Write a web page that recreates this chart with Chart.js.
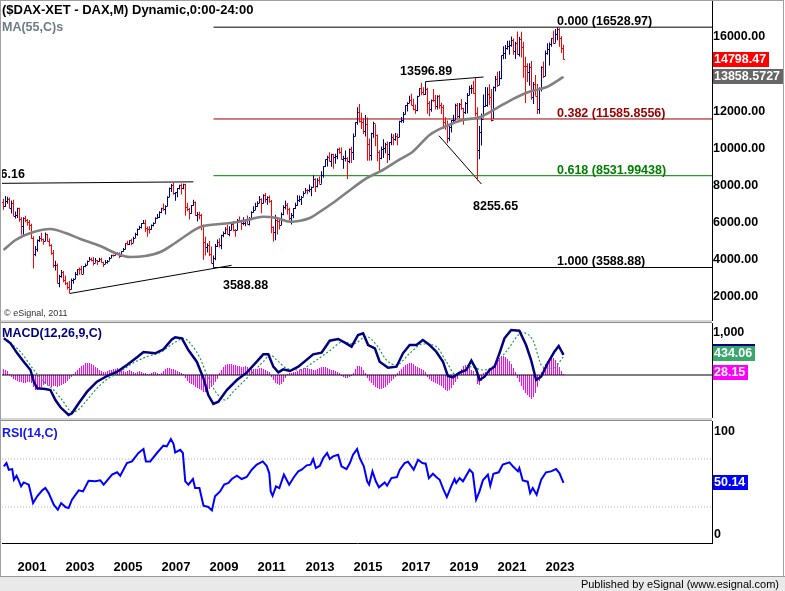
<!DOCTYPE html>
<html>
<head>
<meta charset="utf-8">
<title>DAX monthly</title>
<script src="https://cdn.jsdelivr.net/npm/chart.js@4.4.1/dist/chart.umd.min.js"></script>
<style>
  html, body { margin: 0; padding: 0; background: #fff; }
  body { position: relative; width: 785px; height: 591px; overflow: hidden; font-family: "Liberation Sans", Arial, sans-serif; }
  canvas { position: absolute; left: 0; }
  .frame { position: absolute; left: 0; top: 0; width: 784px; height: 577px; border: 1px solid #a0a0a0; border-bottom: none; box-sizing: border-box; pointer-events: none; }
  .split { position: absolute; left: 0; width: 712px; height: 3px; background: #d6d6d6; border-bottom: 1px solid #8c8c8c; box-sizing: border-box; }
  .footer { position: absolute; left: 0; top: 576px; width: 785px; height: 15px; background: #e9e9e9; border-top: 1px solid #9a9a9a; box-sizing: border-box; }
  .footer span { position: absolute; right: 6px; top: 1px; font: 11px "Liberation Sans Narrow", "Liberation Sans", sans-serif; font-stretch: condensed; color: #000; }
  .lbl { position: absolute; left: 2px; font-weight: bold; font-size: 12.5px; line-height: 14px; white-space: nowrap; }
  .mark { position: absolute; left: 4px; top: 308px; font: 9px "Liberation Sans Narrow", "Liberation Sans", sans-serif; font-stretch: condensed; color: #333; }
</style>
</head>
<body>
<canvas id="priceChart" width="785" height="321" style="top:0px"></canvas>
<canvas id="macdChart" width="785" height="95" style="top:323px"></canvas>
<canvas id="rsiChart" width="785" height="156" style="top:421px"></canvas>

<div class="split" style="top:320px"></div>
<div class="split" style="top:418px"></div>
<div class="frame"></div>

<div class="lbl" style="top:3px;color:#000;font-size:13px">($DAX-XET - DAX,M) Dynamic,0:00-24:00</div>
<div class="lbl" style="top:20px;color:#6e7c8a">MA(55,C)s</div>
<div class="mark">© eSignal, 2011</div>
<div class="lbl" style="top:326px;color:#000080">MACD(12,26,9,C)</div>
<div class="lbl" style="top:426px;color:#1414ff">RSI(14,C)</div>
<div class="footer"><span>Published by eSignal (www.esignal.com)</span></div>

<script>
// monthly bars, Jun 2000 .. Oct 2023 (open = previous close)
const firstMonth = 2000 + 5 / 12;
const firstOpen = 7109;

const closes = [
  6898, 7191, 7259, 6798, 7078, 6372, 6434,
  6795, 6208, 5830, 6265, 6123, 6058, 5862, 5188, 4308, 4560, 5060, 5160,
  5108, 5039, 5398, 5042, 4818, 4383, 3700, 3713, 2769, 3153, 3320, 2893,
  2748, 2547, 2424, 2942, 2983, 3221, 3487, 3485, 3257, 3655, 3746, 3965,
  4059, 4018, 3856, 3985, 3921, 4052, 3896, 3785, 3893, 3960, 4126, 4256,
  4254, 4350, 4349, 4185, 4461, 4587, 4887, 4830, 5044, 4929, 5193, 5408,
  5674, 5796, 5970, 6009, 5693, 5683, 5682, 5859, 6004, 6268, 6309, 6597,
  6789, 6716, 6917, 7409, 7883, 8007, 7584, 7638, 7862, 8020, 7871, 8067,
  6851, 6748, 6535, 6949, 7097, 6418, 6480, 6422, 5831, 4988, 4669, 4810,
  4338, 3844, 4085, 4770, 4941, 4809, 5332, 5458, 5675, 5415, 5625, 5957,
  5608, 5598, 6154, 6136, 5964, 5966, 6148, 5925, 6229, 6601, 6688, 6914,
  7077, 7273, 7041, 7514, 7294, 7376, 7159, 5785, 5502, 6141, 6089, 5898,
  6458, 6856, 6947, 6761, 6264, 6416, 6772, 6971, 7216, 7260, 7405, 7612,
  7776, 7742, 7795, 7914, 8349, 7959, 8276, 8104, 8594, 9033, 9406, 9552,
  9306, 9692, 9556, 9603, 9943, 9833, 9407, 9470, 9474, 9327, 9981, 9806,
  10694, 11402, 11966, 11454, 11414, 10945, 11309, 10259, 9660, 10850, 11382, 10743,
  9798, 9495, 9966, 10039, 10263, 9680, 10337, 10593, 10511, 10665, 10640, 11481,
  11535, 11834, 12313, 12438, 12615, 12325, 12118, 12056, 12829, 13230, 13024, 12918,
  13189, 12436, 12097, 12612, 12605, 12306, 12806, 12364, 12247, 11447, 11257, 10559,
  11173, 11516, 11526, 12344, 11727, 12399, 12189, 11939, 12428, 12867, 13236, 13249,
  12982, 11890, 9936, 10862, 11587, 12311, 12313, 12945, 12761, 11556, 13291, 13719,
  13433, 13786, 15008, 15136, 15421, 15531, 15544, 15835, 15261, 15689, 15100, 15885,
  15471, 14461, 14415, 14098, 14388, 12784, 13484, 12835, 12114, 13253, 14397, 13924,
  15128, 15365, 15629, 15922, 15664, 16148, 16447, 15947, 15387, 14798.47
];
const highs = [
  7290, 7435, 7400, 7360, 7200, 7230, 6600,
  6810, 6800, 6290, 6300, 6370, 6200, 6150, 5940, 5270, 4750, 5090, 5290,
  5460, 5140, 5470, 5410, 5160, 4840, 4530, 3950, 3800, 3200, 3450, 3400,
  3160, 2800, 2860, 2990, 3010, 3340, 3500, 3590, 3680, 3670, 3810, 3970,
  4160, 4110, 4150, 4100, 3990, 4110, 4110, 3900, 3990, 3990, 4150, 4270,
  4290, 4400, 4420, 4410, 4470, 4640, 4900, 5030, 5060, 5140, 5240, 5460,
  5690, 5840, 5990, 6140, 6160, 5800, 5810, 5900, 6020, 6290, 6470, 6620,
  6800, 7040, 6940, 7420, 7890, 8080, 8151, 7640, 7870, 8040, 8110, 8100,
  8100, 7080, 6800, 6960, 7240, 7140, 6580, 6590, 6470, 5900, 5250, 4900,
  5010, 4720, 4240, 4850, 5090, 5170, 5350, 5530, 5760, 5890, 5810, 6030,
  6090, 5660, 6200, 6340, 6160, 6300, 6180, 6390, 6310, 6620, 6880, 7080,
  7160, 7440, 7320, 7530, 7600, 7430, 7470, 7220, 5810, 6430, 6290, 6200,
  6550, 6940, 7190, 7060, 6800, 6520, 6790, 7080, 7480, 7460, 7440, 7700,
  7870, 7810, 8060, 7950, 8560, 8400, 8400, 8490, 8770, 9040, 9410, 9600,
  9800, 9720, 9720, 9720, 10000, 10050, 10050, 9600, 9890, 9530, 10000, 10090,
  10810, 11410, 12220, 12390, 11920, 11630, 11800, 11670, 10540, 10850, 11430, 11300,
  10750, 9900, 10100, 10490, 10300, 10370, 10340, 10800, 10770, 10830, 10810, 11490,
  11690, 11960, 12320, 12490, 12840, 12950, 12680, 12370, 12840, 13240, 13530, 13300,
  13597, 13270, 12550, 12640, 13200, 12880, 12860, 12890, 12460, 12350, 11680, 11500,
  11260, 11530, 11820, 12400, 12440, 12440, 12660, 12190, 12500, 12990, 13370, 13430,
  13640, 13795, 12220, 11210, 11880, 12910, 13310, 13300, 13460, 13200, 13330, 13900,
  14130, 14170, 15010, 15500, 15570, 15800, 15810, 16030, 15920, 15750, 16290, 16000,
  16285, 15740, 14930, 14590, 14580, 14710, 13580, 13950, 13470, 13300, 14420, 14680,
  15270, 15660, 15710, 15930, 16330, 16430, 16529, 16470, 16040, 15580
];
const lows = [
  6700, 6850, 7020, 6780, 6500, 6360, 6230,
  6260, 6050, 5350, 5330, 6020, 5850, 5600, 5130, 3540, 4200, 4430, 4960,
  4990, 4810, 5000, 4990, 4720, 4270, 3570, 3430, 2740, 2520, 3030, 2800,
  2650, 2400, 2189, 2400, 2720, 2950, 3160, 3200, 3230, 3250, 3600, 3720,
  3950, 3930, 3690, 3840, 3720, 3900, 3840, 3620, 3780, 3800, 3950, 4100,
  4170, 4240, 4280, 4100, 4170, 4440, 4560, 4790, 4800, 4780, 4920, 5180,
  5300, 5620, 5690, 5930, 5500, 5240, 5420, 5620, 5800, 5970, 6210, 6260,
  6510, 6640, 6440, 6880, 7380, 7660, 7500, 7180, 7370, 7790, 7520, 7800,
  6380, 6620, 6170, 6480, 6920, 6370, 6060, 6180, 5600, 4010, 4240, 4400,
  4210, 3820, 3589, 3980, 4690, 4660, 4570, 5220, 5380, 5370, 5270, 5600,
  5540, 5250, 5590, 6080, 5610, 5860, 5810, 5910, 5850, 6150, 6530, 6690,
  6860, 7060, 6510, 7030, 7080, 6970, 7070, 5430, 4970, 5050, 5370, 5640,
  5880, 6400, 6710, 6440, 6120, 5910, 6240, 6740, 6920, 7110, 6950, 7400,
  7600, 7530, 7640, 7420, 7900, 7650, 7900, 8100, 8100, 8420, 9020, 9030,
  9300, 9020, 8910, 9170, 9420, 9720, 9400, 8900, 9300, 8355, 9200, 9210,
  9380, 10650, 11280, 11400, 11050, 10780, 10640, 9340, 9330, 9350, 10570, 10120,
  9310, 8700, 9420, 9480, 9740, 9210, 9370, 10170, 10170, 10420, 10170, 10620,
  11380, 11370, 11830, 11990, 12440, 12320, 12050, 11870, 12000, 12820, 12860, 12860,
  12880, 11870, 11730, 11980, 12520, 12100, 12100, 12130, 11860, 11050, 11010, 10280,
  10390, 10860, 11300, 11520, 11620, 11620, 12080, 11270, 11850, 11880, 12860, 12950,
  12950, 11720, 8256, 9420, 10160, 11660, 12250, 12250, 12340, 11450, 11600, 13060,
  13310, 13420, 13720, 14800, 14820, 15320, 15050, 15480, 15050, 14820, 15050, 14950,
  14900, 13810, 12440, 13580, 13380, 12620, 12390, 12830, 11860, 11870, 13070, 13790,
  13900, 15040, 14460, 15480, 15630, 15690, 15830, 15470, 15140, 14790
];

// 55-month moving average
const maYears = [2000.42, 2000.92, 2001.54, 2002.37, 2003.00, 2003.62, 2004.45, 2005.07, 2005.70, 2006.32,
  2006.95, 2007.57, 2007.99, 2008.61, 2009.44, 2009.98, 2010.60, 2011.23, 2011.81, 2012.35,
  2013.18, 2013.60, 2014.14, 2014.97, 2015.55, 2016.09, 2016.93, 2017.47, 2018.17, 2018.87,
  2019.54, 2020.25, 2020.95, 2021.62, 2022.33, 2023.02, 2023.44, 2023.75];
const maValues = [4530, 5068, 5445, 5661, 5445, 5122, 4745, 4368, 4153, 4207,
  4422, 4907, 5284, 5768, 5930, 6000, 6146, 6323, 6253, 6054,
  6253, 6592, 7061, 7869, 8407, 8746, 9414, 9823, 10723, 11207,
  11530, 11676, 12160, 12645, 13055, 13291, 13593, 13858.5727];

// MACD(12,26,9)
const macdYears = [2000.43, 2000.71, 2000.99, 2001.26, 2001.54, 2001.68, 2001.82, 2002.16, 2002.37, 2002.58,
  2002.79, 2003.13, 2003.27, 2003.55, 2003.90, 2004.31, 2004.73, 2005.15, 2005.56, 2005.98,
  2006.25, 2006.74, 2007.08, 2007.43, 2007.57, 2007.85, 2008.12, 2008.47, 2008.75, 2008.95,
  2009.16, 2009.37, 2009.72, 2010.14, 2010.55, 2010.97, 2011.24, 2011.45, 2011.66, 2011.87,
  2012.07, 2012.35, 2012.70, 2013.32, 2013.67, 2014.01, 2014.36, 2014.64, 2014.92, 2015.19,
  2015.40, 2015.61, 2015.89, 2016.09, 2016.44, 2016.79, 2017.06, 2017.34, 2017.62, 2017.89,
  2018.17, 2018.45, 2018.73, 2018.93, 2019.14, 2019.42, 2019.70, 2019.91, 2020.11, 2020.25,
  2020.46, 2020.67, 2020.88, 2021.08, 2021.29, 2021.57, 2021.91, 2022.19, 2022.40, 2022.61,
  2022.82, 2023.09, 2023.37, 2023.55, 2023.75];
const macdValues = [873, 754, 516, 317, 119, -159, -317, -333, -357, -595,
  -769, -952, -912, -674, -397, -159, -24, 79, 238, 421,
  547, 516, 611, 849, 897, 873, 595, 317, -79, -476,
  -690, -635, -357, -119, 55, 317, 492, 492, 198, 63,
  135, 95, 198, 492, 532, 817, 857, 769, 674, 952,
  992, 714, 635, 317, 174, 198, 516, 714, 714, 833,
  714, 555, 317, -24, -55, 55, 119, 341, 135, -119,
  -40, 119, 198, 516, 873, 1071, 1055, 714, 357, -119,
  -40, 278, 555, 690, 480];
const signalYears = [2000.57, 2001.12, 2001.68, 2002.09, 2002.51, 2002.86, 2003.27, 2003.48, 2003.90, 2004.31,
  2004.73, 2005.28, 2005.84, 2006.39, 2006.95, 2007.50, 2007.91, 2008.26, 2008.61, 2008.95,
  2009.30, 2009.65, 2009.99, 2010.41, 2010.83, 2011.24, 2011.52, 2011.80, 2012.21, 2012.70,
  2013.46, 2014.01, 2014.57, 2014.98, 2015.54, 2015.96, 2016.37, 2016.79, 2017.34, 2017.89,
  2018.45, 2018.87, 2019.28, 2019.84, 2020.39, 2020.80, 2021.36, 2022.05, 2022.47, 2022.88,
  2023.30, 2023.75];
const signalValues = [833, 555, 119, -159, -357, -595, -873, -849, -595, -317,
  -103, 79, 294, 437, 539, 754, 873, 714, 397, -79,
  -436, -595, -397, -159, 79, 317, 476, 357, 159, 119,
  357, 579, 793, 738, 912, 714, 357, 238, 516, 738,
  674, 317, 0, 198, 119, 198, 555, 1007, 833, 198,
  159, 434.06];
// histogram, one value per monthly bar
const histValues = [
  143, 119, 95, 24, -48, -95, -119,
  -143, -167, -167, -190, -190, -167, -167, -190, -286, -357, -357, -333,
  -286, -238, -214, -238, -262, -286, -262, -262, -286, -262, -238, -214,
  -190, -143, -95, -48, 24, 71, 119, 167, 214, 238, 286, 286,
  286, 262, 238, 190, 167, 119, 95, 71, 71, 95, 119, 119,
  143, 143, 167, 143, 119, 95, 71, 95, 119, 95, 71, 48,
  71, 95, 71, 48, 48, 24, 24, 48, 71, 71, 48, 24,
  48, 95, 143, 167, 167, 143, 143, 119, 95, 71, 48, 24,
  -71, -143, -190, -214, -238, -286, -309, -333, -357, -405, -405, -381,
  -333, -286, -238, -167, -95, 48, 119, 190, 238, 262, 262, 262,
  238, 238, 214, 214, 190, 190, 214, 190, 167, 167, 143, 143,
  143, 167, 167, 143, 119, 95, 71, -48, -119, -190, -214, -238,
  -214, -167, -71, 24, 48, 48, 71, 71, 95, 119, 143, 167,
  167, 167, 143, 143, 119, 119, 143, 167, 190, 190, 190, 167,
  143, 119, 119, 95, 71, 48, -24, -48, -71, -71, -48, -24,
  48, 143, 214, 214, 190, 119, 48, -71, -143, -190, -238, -286,
  -309, -333, -333, -309, -286, -238, -190, -143, -95, -48, 48, 95,
  143, 190, 238, 262, 286, 286, 262, 214, 190, 167, 143, 119,
  71, -48, -95, -143, -167, -190, -214, -238, -262, -309, -357, -381,
  -357, -309, -238, -167, -95, 71, 143, 214, 238, 238, 190, 119,
  95, 24, -214, -238, -143, 48, 71, 95, 119, 143, 190, 262,
  333, 405, 452, 452, 428, 381, 333, 262, 167, 71, -71, -167,
  -262, -357, -428, -476, -524, -571, -524, -428, -286, -143, 71, 167,
  262, 333, 381, 405, 405, 357, 286, 190, 95, 28.15
];

// RSI(14)
const rsiYears = [
  2000.43, 2000.54, 2000.64, 2000.78, 2000.85, 2000.96,
  2001.05, 2001.15, 2001.26, 2001.47, 2001.65, 2001.82,
  2002.03, 2002.16, 2002.30, 2002.51, 2002.68, 2002.82,
  2003.00, 2003.13, 2003.27, 2003.55, 2003.73, 2003.96,
  2004.24, 2004.45, 2004.59, 2004.94,
  2005.15, 2005.28, 2005.56, 2005.77,
  2006.04, 2006.25, 2006.35, 2006.53, 2006.81,
  2007.08, 2007.22, 2007.39, 2007.50, 2007.57, 2007.78, 2007.89, 2007.99,
  2008.12, 2008.31, 2008.40, 2008.58, 2008.75, 2008.95,
  2009.10, 2009.23, 2009.44, 2009.61, 2009.79, 2009.93,
  2010.14, 2010.34, 2010.55, 2010.76, 2010.97,
  2011.22, 2011.38, 2011.49, 2011.55, 2011.63, 2011.77, 2011.91,
  2012.10, 2012.32, 2012.52, 2012.70, 2012.84,
  2013.05, 2013.21, 2013.32, 2013.43, 2013.60, 2013.74, 2013.90,
  2014.01, 2014.15, 2014.36, 2014.50, 2014.71, 2014.85, 2014.98,
  2015.15, 2015.26, 2015.43, 2015.57, 2015.65, 2015.79, 2015.93,
  2016.06, 2016.30, 2016.40, 2016.58, 2016.81, 2016.93,
  2017.13, 2017.27, 2017.51, 2017.69, 2017.87,
  2018.01, 2018.14, 2018.31, 2018.45, 2018.59, 2018.75, 2018.89,
  2019.07, 2019.21, 2019.28, 2019.42, 2019.56, 2019.84, 2019.97,
  2020.11, 2020.25, 2020.39, 2020.60, 2020.70, 2020.83,
  2021.05, 2021.22, 2021.50, 2021.64, 2021.85, 2021.91,
  2022.05, 2022.26, 2022.36, 2022.47, 2022.63, 2022.82,
  2023.02, 2023.23, 2023.44, 2023.58, 2023.75
];
const rsiValues = [
  63.9, 66.6, 61.0, 61.6, 52.7, 56.0,
  52.2, 47.2, 50.5, 48.6, 33.3, 38.9,
  43.9, 45.8, 41.6, 31.9, 27.7, 33.3,
  30.0, 29.1, 36.1, 43.9, 43.0, 51.9,
  51.4, 52.2, 48.6, 57.0,
  58.9, 56.1, 66.6, 68.0,
  75.0, 78.3, 68.0, 68.0, 75.0,
  81.1, 80.5, 86.6, 82.7, 75.5, 77.7, 75.0, 51.4,
  48.6, 53.3, 45.8, 45.8, 31.1, 30.0,
  27.2, 38.9, 43.0, 48.6, 50.0, 53.3,
  56.1, 53.3, 55.0, 61.1, 65.3,
  68.0, 64.4, 58.3, 43.0, 39.4, 47.2, 45.8,
  57.0, 48.6, 55.0, 59.7, 61.1,
  64.7, 65.3, 70.0, 62.5, 64.4, 70.8, 75.0,
  70.0, 72.2, 73.6, 63.9, 61.6, 66.6, 73.6,
  78.3, 70.8, 63.9, 51.4, 48.6, 59.7, 51.4,
  46.4, 50.5, 47.7, 54.1, 55.0, 61.1,
  66.6, 67.7, 61.1, 69.4, 66.6,
  66.1, 54.1, 57.7, 55.0, 52.7, 44.4, 38.3,
  47.2, 53.3, 50.0, 54.1, 51.4, 61.1, 58.3,
  36.1, 43.0, 52.2, 57.0, 47.7, 57.7,
  58.9, 65.3, 67.2, 63.9, 59.7, 62.5,
  52.2, 51.1, 41.6, 45.8, 40.2, 52.7,
  58.9, 59.7, 61.6, 58.3, 50.14
];
const rsiLevels = [70, 30];

// axis ticks
const yearTicks = [2001, 2003, 2005, 2007, 2009, 2011, 2013, 2015, 2017, 2019, 2021, 2023];
const priceTicks = [2000, 4000, 6000, 8000, 10000, 12000, 16000];
const macdTicks = [1000];

// retracement levels from the Mar 2009 low to the Jul 2023 high
const fibStart = 2009 + 2 / 12;
const fibLevels = [16528.97, 11585.8556, 8531.99438, 3588.88];
const fibTexts = ['0.000 (16528.97)', '0.382 (11585.8556)', '0.618 (8531.99438)', '1.000 (3588.88)'];
const fibColors = ['#000000', '#990000', '#008000', '#000000'];

// hand-drawn trend lines: [year, price, year, price]
const trendLines = [
  [2000.35, 8120, 2008.33, 8200],
  [2003.17, 2188.75, 2009.92, 3706],
  [2018.00, 13596.89, 2020.42, 13846],
  [2018.56, 10685, 2020.33, 8084]
];
const notes = [
  { text: '8136.16', x: 2001.31, y: 8569, align: 'right' },
  { text: '13596.89', x: 2016.94, y: 14142, align: 'left' },
  { text: '8255.65', x: 2019.98, y: 6846, align: 'left' },
  { text: '3588.88', x: 2009.56, y: 2592, align: 'left' }
];

const lastClose = 14798.47;
const lastMA = 13858.5727;
const lastSignal = 434.06;
const lastHist = 28.15;
const lastRSI = 50.14;

// ---- scales --------------------------------------------------------
const xMin = 2000.3542;
const xMax = xMin + 710 / 24;
const FONT = '"Liberation Sans", Arial, sans-serif';

Chart.defaults.font.family = FONT;
Chart.defaults.animation = false;
Chart.defaults.plugins.legend.display = false;
Chart.defaults.plugins.tooltip.enabled = false;

const monthX = closes.map((_, i) => firstMonth + i / 12);
const opens = closes.map((c, i) => i === 0 ? firstOpen : closes[i - 1]);
const barColors = closes.map((c, i) => c >= opens[i] ? '#000080' : '#ff0000');

function noPad(s) { s.paddingTop = 0; s.paddingBottom = 0; s.paddingLeft = 0; s.paddingRight = 0; }

function timeAxis(show) {
  return {
    type: 'linear', min: xMin, max: xMax, offset: false, display: show,
    grid: { display: false, drawTicks: false },
    border: { display: show, color: '#000', width: 1 },
    afterBuildTicks: s => { s.ticks = yearTicks.map(v => ({ value: v })); },
    ticks: { align: 'start', autoSkip: false, maxRotation: 0, padding: 17, color: '#000',
             font: { size: 13, weight: 'bold' }, callback: v => String(v) },
    afterFit: s => { if (show) s.height = 34; noPad(s); }
  };
}

function valueAxis(min, max, tickValues, fmt) {
  return {
    type: 'linear', position: 'right', min: min, max: max,
    grid: { display: false, drawTicks: false },
    border: { display: true, color: '#000', width: 1 },
    afterBuildTicks: s => { s.ticks = tickValues.map(v => ({ value: v })); },
    ticks: { display: tickValues.length > 0, padding: 1, crossAlign: 'near', color: '#000',
             font: { size: 12.5, weight: 'bold' }, callback: fmt },
    afterFit: s => { s.width = 73; noPad(s); }
  };
}

function pts(xs, ys) { return xs.map((x, i) => ({ x: x, y: ys[i] })); }

function seg(x0, y0, x1, y1, color, dash, order) {
  return { type: 'line', data: [{ x: x0, y: y0 }, { x: x1, y: y1 }], borderColor: color,
           borderWidth: 1, borderDash: dash || [], pointRadius: 0, order: order === undefined ? 2 : order };
}

function valueBox(ctx, left, cy, text, fill) {
  ctx.save();
  ctx.font = 'bold 12.5px ' + FONT;
  const w = Math.ceil(ctx.measureText(text).width) + 3;
  const top = Math.round(cy - 7.5);
  ctx.fillStyle = fill;
  ctx.fillRect(left + 1, top, w, 15);
  ctx.fillStyle = '#fff';
  ctx.textBaseline = 'middle';
  ctx.fillText(text, left + 2, top + 8);
  ctx.restore();
}

// open / close ticks for the OHLC bars
const ohlcTicks = {
  id: 'ohlcTicks',
  afterDatasetDraw(chart, args) {
    if (args.index !== 0) return;
    const { ctx, scales: { x, y } } = chart;
    ctx.save();
    ctx.lineWidth = 1;
    monthX.forEach((mx, i) => {
      const px = x.getPixelForValue(mx);
      const po = Math.round(y.getPixelForValue(opens[i])) + 0.5;
      const pc = Math.round(y.getPixelForValue(closes[i])) + 0.5;
      ctx.strokeStyle = barColors[i];
      ctx.beginPath();
      ctx.moveTo(px - 1.5, po); ctx.lineTo(px, po);
      ctx.moveTo(px, pc); ctx.lineTo(px + 1.5, pc);
      ctx.stroke();
    });
    ctx.restore();
  }
};

// MACD histogram: 1px magenta columns from the zero line
const histColumns = {
  id: 'histColumns',
  beforeDatasetsDraw(chart) {
    const { ctx, chartArea: a, scales: { x, y } } = chart;
    const y0 = Math.round(y.getPixelForValue(0));
    ctx.save();
    ctx.beginPath();
    ctx.rect(a.left, a.top, a.right - a.left, a.bottom - a.top);
    ctx.clip();
    ctx.fillStyle = '#ff00ff';
    monthX.forEach((mx, i) => {
      const px = Math.floor(x.getPixelForValue(mx));
      const py = Math.round(y.getPixelForValue(histValues[i]));
      ctx.fillRect(px, Math.min(py, y0), 1, Math.abs(py - y0));
    });
    ctx.restore();
  }
};

const priceNotes = {
  id: 'priceNotes',
  afterDraw(chart) {
    const { ctx, chartArea: a, scales: { x, y } } = chart;
    ctx.save();
    ctx.beginPath();
    ctx.rect(a.left, a.top, a.right - a.left, a.bottom - a.top);
    ctx.clip();
    ctx.font = 'bold 12.5px ' + FONT;
    ctx.fillStyle = '#000';
    ctx.textBaseline = 'middle';
    notes.forEach(n => {
      ctx.textAlign = n.align;
      ctx.fillText(n.text, x.getPixelForValue(n.x), y.getPixelForValue(n.y));
    });
    ctx.textAlign = 'left';
    ctx.textBaseline = 'alphabetic';
    fibLevels.forEach((lv, i) => {
      ctx.fillStyle = fibColors[i];
      ctx.fillText(fibTexts[i], x.getPixelForValue(2023.48), y.getPixelForValue(lv) - 2);
    });
    ctx.restore();
    valueBox(ctx, a.right, y.getPixelForValue(lastClose), lastClose.toFixed(2), '#ff0000');
    valueBox(ctx, a.right, y.getPixelForValue(lastMA), String(lastMA), '#666666');
  }
};

const macdBoxes = {
  id: 'macdBoxes',
  afterDraw(chart) {
    const { ctx, chartArea: a, scales: { y } } = chart;
    const sy = y.getPixelForValue(lastSignal);
    valueBox(ctx, a.right, sy - 5.5, lastSignal.toFixed(2), '#000080');
    valueBox(ctx, a.right, sy - 3, lastSignal.toFixed(2), '#3aa76d');
    valueBox(ctx, a.right, y.getPixelForValue(lastHist) - 1, lastHist.toFixed(2), '#ff00ff');
  }
};

const rsiLabels = {
  id: 'rsiLabels',
  afterDraw(chart) {
    const { ctx, chartArea: a, scales: { y } } = chart;
    ctx.save();
    ctx.font = 'bold 12.5px ' + FONT;
    ctx.fillStyle = '#000';
    ctx.textBaseline = 'middle';
    ctx.fillText('100', a.right + 2, y.getPixelForValue(100) + 9);
    ctx.fillText('0', a.right + 2, y.getPixelForValue(0) - 8);
    ctx.restore();
    valueBox(ctx, a.right, y.getPixelForValue(lastRSI), lastRSI.toFixed(2), '#0000ff');
  }
};

// ---- price panel ---------------------------------------------------
new Chart(document.getElementById('priceChart'), {
  type: 'bar',
  data: {
    datasets: [
      { type: 'bar', data: monthX.map((x, i) => ({ x: x, y: [lows[i], highs[i]] })),
        backgroundColor: barColors, barThickness: 1, inflateAmount: 0, borderWidth: 0, order: 1 },
      { type: 'line', data: pts(maYears, maValues), borderColor: '#808080', borderWidth: 2.6,
        pointRadius: 0, cubicInterpolationMode: 'monotone', order: 0 },
      ...fibLevels.map((lv, i) => seg(fibStart, lv, xMax, lv, fibColors[i])),
      ...trendLines.map(t => seg(t[0], t[1], t[2], t[3], '#000000'))
    ]
  },
  options: {
    responsive: false,
    layout: { padding: { left: 2, right: 0, top: 0, bottom: 0 } },
    scales: {
      x: timeAxis(false),
      y: valueAxis(707.7, 17992.3, priceTicks, v => v.toFixed(2))
    }
  },
  plugins: [ohlcTicks, priceNotes]
});

// ---- MACD panel ----------------------------------------------------
new Chart(document.getElementById('macdChart'), {
  type: 'line',
  data: {
    datasets: [
      seg(xMin, 0, xMax, 0, '#000000', [], 2),
      { data: pts(signalYears, signalValues), borderColor: '#1f9a50', borderWidth: 1.2,
        borderDash: [2, 2], pointRadius: 0, cubicInterpolationMode: 'monotone', order: 1 },
      { data: pts(macdYears, macdValues), borderColor: '#000080', borderWidth: 2.5,
        pointRadius: 0, order: 0 }
    ]
  },
  options: {
    responsive: false,
    layout: { padding: { left: 2, right: 0, top: 0, bottom: 0 } },
    scales: {
      x: timeAxis(false),
      y: valueAxis(-1023.8, 1238.1, macdTicks, v => v.toLocaleString('en-US'))
    }
  },
  plugins: [histColumns, macdBoxes]
});

// ---- RSI panel -----------------------------------------------------
new Chart(document.getElementById('rsiChart'), {
  type: 'line',
  data: {
    datasets: [
      ...rsiLevels.map(lv => seg(xMin, lv, xMax, lv, '#b4b4b4', [1, 2], 1)),
      { data: pts(rsiYears, rsiValues), borderColor: '#0000ff', borderWidth: 2, pointRadius: 0, order: 0 }
    ]
  },
  options: {
    responsive: false,
    layout: { padding: { left: 2, right: 0, top: 0, bottom: 0 } },
    scales: {
      x: timeAxis(true),
      y: valueAxis(0, 101.67, [], v => '')
    }
  },
  plugins: [rsiLabels]
});
</script>
</body>
</html>
